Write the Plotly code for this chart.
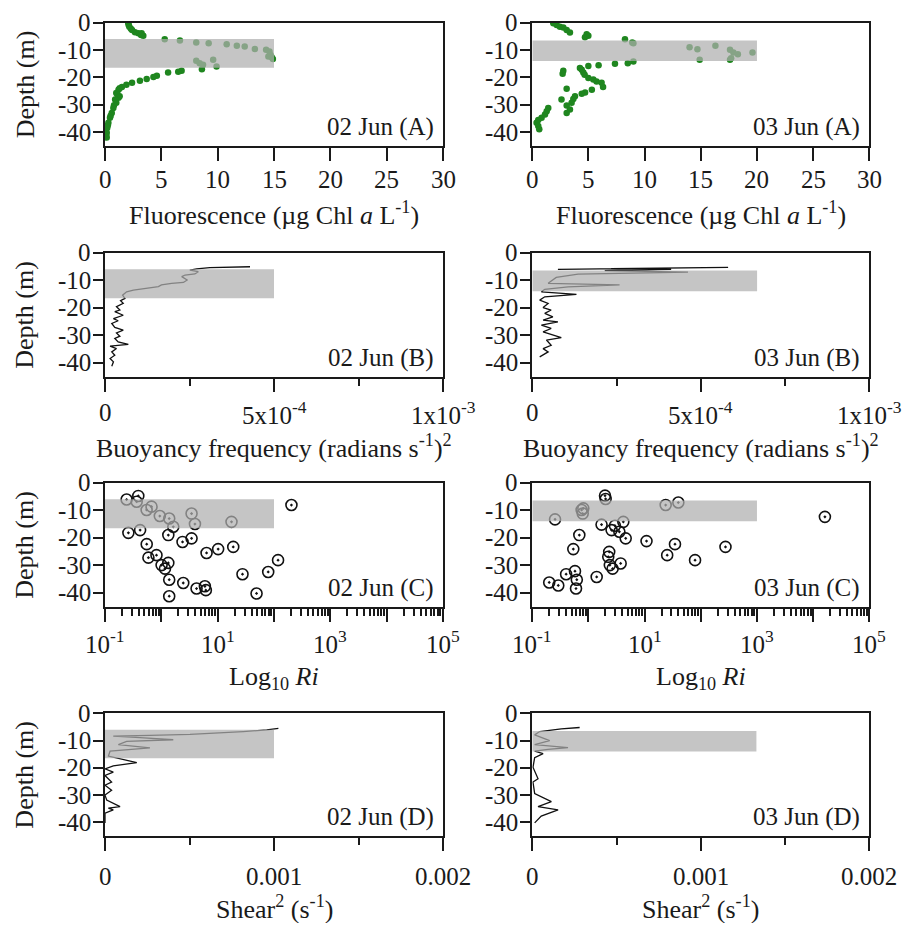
import math
import plotly.graph_objects as go

# ---------------- DATA ----------------
fl02_x = [2.07, 2.1, 2.16, 2.3, 2.4, 2.66, 2.96, 3.25, 3.4, 3.2,
          5.3, 6.65, 8.1, 9.2, 10.8, 11.7, 12.4, 13.3, 14.3, 14.6, 14.7, 14.8, 14.9, 14.5,
          8.1, 8.4, 8.7, 9.6, 9.9, 8.6, 6.8, 6.5, 5.6, 4.6, 4.3, 3.7, 3.1, 2.4, 1.9, 1.5,
          1.3, 1.2, 1.0, 1.1, 1.3, 1.2, 0.9, 1.0, 0.8, 0.74, 0.6, 0.5, 0.44, 0.3, 0.25,
          0.2, 0.15, 0.12, 0.15]
fl02_d = [-0.2, -0.8, -1.5, -2.2, -2.7, -3.5, -3.9, -3.9, -4.8, -4.5,
          -6.1, -6.5, -7.2, -7.5, -7.9, -8.4, -8.7, -9.6, -9.9, -10.5, -11.8, -12.6, -13.3, -12.4,
          -13.9, -14.8, -15.4, -13.6, -16.0, -17.0, -17.6, -17.9, -18.2, -19.4, -19.9, -20.6, -21.2, -22.0, -22.7, -23.5,
          -24.0, -24.5, -25.7, -26.3, -26.9, -27.5, -28.1, -29.3, -30.2, -31.2, -33.0, -34.0, -34.8, -36.6, -37.5,
          -38.4, -40.2, -41.0, -42.0]

fl03_x = [1.87, 2.17, 2.46, 2.76, 3.06, 3.35, 4.84, 4.99, 4.69, 8.25, 9.0, 8.9,
          14.0, 14.7, 16.3, 14.9, 17.6, 17.9, 18.3, 17.7, 17.6, 19.6,
          9.0, 8.5, 7.36, 5.9, 4.99, 4.24, 4.4, 2.76, 2.7, 4.54, 4.66, 4.99, 5.43, 5.72,
          6.17, 6.3, 3.06, 5.3, 4.7, 4.4, 3.8, 3.65, 2.6, 3.5, 3.06, 3.35, 3.06,
          1.42, 1.28, 1.13, 0.83, 0.53, 0.38, 0.53, 0.62]
fl03_d = [-0.2, -0.8, -1.5, -1.8, -2.7, -3.6, -4.2, -4.8, -5.3, -6.1, -7.5, -7.2,
          -9.0, -9.7, -8.4, -13.6, -9.9, -10.9, -11.5, -13.0, -13.6, -10.9,
          -14.2, -14.8, -15.0, -15.6, -15.8, -16.6, -17.2, -17.6, -18.7, -18.2, -19.0, -20.2, -20.8, -21.5,
          -22.0, -23.5, -24.2, -24.5, -25.5, -26.0, -26.9, -27.9, -28.1, -29.3, -30.3, -31.8, -33.0,
          -31.2, -32.4, -33.6, -34.8, -35.6, -36.6, -37.8, -39.0]

n2_02_x = [4.29e-4, 3.7e-4, 3.1e-4, 2.71e-4, 2.51e-4, 2.76e-4, 2.66e-4, 2.37e-4, 2.27e-4, 2.43e-4,
           2.32e-4, 1.97e-4, 1.67e-4, 1.58e-4, 1.23e-4, 0.84e-4, 0.64e-4, 0.52e-4, 0.59e-4, 0.46e-4,
           0.54e-4, 0.34e-4, 0.44e-4, 0.29e-4, 0.54e-4, 0.25e-4, 0.39e-4, 0.20e-4, 0.29e-4, 0.54e-4,
           0.34e-4, 0.44e-4, 0.29e-4, 0.39e-4, 0.69e-4, 0.15e-4, 0.34e-4, 0.20e-4, 0.29e-4, 0.15e-4,
           0.25e-4, 0.20e-4]
n2_02_d = [-5.1, -5.2, -5.4, -5.9, -6.3, -6.9, -7.7, -8.1, -8.7, -9.9,
           -10.8, -11.1, -11.7, -12.3, -12.9, -13.6, -14.2, -15.4, -16.6, -17.4,
           -18.4, -19.6, -20.8, -21.4, -22.7, -23.9, -24.7, -25.7, -27.1, -28.1,
           -29.1, -30.3, -31.1, -32.4, -33.3, -33.9, -34.8, -36.0, -37.2, -38.4,
           -39.6, -41.2]

n2_03_x = [0.76e-4, 5.81e-4, 2.34e-4, 4.12e-4, 2.15e-4, 4.62e-4, 1.36e-4, 0.71e-4, 0.47e-4, 2.59e-4,
           1.06e-4, 0.37e-4, 0.27e-4, 1.31e-4, 0.37e-4, 0.22e-4, 0.47e-4, 0.32e-4, 0.56e-4, 0.37e-4,
           0.61e-4, 0.32e-4, 0.76e-4, 0.27e-4, 0.56e-4, 0.32e-4, 0.86e-4, 0.42e-4, 0.56e-4, 0.32e-4,
           0.47e-4, 0.22e-4]
n2_03_d = [-6.05, -5.32, -5.81, -6.05, -6.53, -7.02, -7.75, -8.96, -11.1, -11.7,
           -12.4, -13.3, -14.2, -15.1, -16.0, -17.2, -18.4, -19.9, -20.8, -22.0,
           -23.3, -24.5, -25.1, -26.3, -27.5, -28.7, -30.8, -31.7, -33.6, -34.8,
           -36.0, -37.8]

ri02_x = [0.242, 0.39, 0.365, 0.548, 0.67, 0.94, 1.38, 1.63, 3.44, 3.95, 17.6, 204,
          0.26, 0.42, 1.33, 2.38, 3.44, 0.55, 6.35, 10.2, 18.9, 0.59, 0.82, 1.01,
          1.16, 1.33, 1.38, 1.38, 2.45, 4.22, 5.93, 6.17, 27.6, 49, 78.9, 118]
ri02_d = [-6.1, -4.8, -6.9, -9.9, -8.7, -12.1, -13.0, -16.0, -11.2, -15.0, -14.2, -8.1,
          -18.2, -17.2, -19.0, -21.5, -20.2, -22.3, -25.5, -24.1, -23.3, -27.2, -26.3, -29.9,
          -31.2, -29.1, -35.2, -41.2, -36.4, -38.4, -37.6, -39.0, -33.2, -40.2, -32.4, -28.1]

ri03_x = [0.254, 0.755, 0.81, 0.79, 1.97, 2.02, 23.7, 39.8, 16200,
          0.687, 1.71, 2.58, 2.96, 3.55, 4.17, 4.6, 10.8, 34.7, 25.2, 79, 275,
          0.537, 2.34, 2.25, 2.4, 2.69, 3.74, 0.575, 0.40, 0.62, 0.60, 0.2, 0.29, 1.4]
ri03_d = [-13.3, -9.9, -9.3, -11.2, -4.7, -5.9, -8.1, -7.2, -12.4,
          -19.0, -15.2, -17.2, -15.6, -17.8, -14.2, -20.2, -21.2, -22.3, -26.3, -28.1, -23.3,
          -24.1, -25.1, -26.9, -29.9, -31.2, -29.3, -32.1, -33.2, -35.2, -38.4, -36.2, -37.3, -34.2]

sh02_x = [1.026e-3, 0.957e-3, 0.818e-3, 0.503e-3, 0.266e-3, 0.049e-3, 0.207e-3, 0.404e-3, 0.128e-3, 0.079e-3,
          0.266e-3, 0.030e-3, 0.020e-3, 0.108e-3, 0.188e-3, 0.049e-3, 0.0, 0.049e-3, 0.0, 0.039e-3,
          0.0, 0.039e-3, 0.0, 0.010e-3, 0.089e-3, 0.020e-3, 0.049e-3, 0.0, 0.0]
sh02_d = [-5.5, -6.1, -6.7, -7.7, -8.1, -8.4, -8.9, -9.7, -10.3, -11.5,
          -12.7, -13.9, -15.7, -16.9, -18.1, -19.3, -20.4, -21.6, -22.8, -25.2,
          -26.4, -28.2, -30.0, -31.8, -34.2, -34.8, -35.4, -36.6, -40.2]

sh03_x = [0.281e-3, 0.172e-3, 0.044e-3, 0.014e-3, 0.103e-3, 0.014e-3, 0.212e-3, 0.093e-3, 0.014e-3, 0.064e-3,
          0.014e-3, 0.004e-3, 0.034e-3, 0.004e-3, 0.014e-3, 0.113e-3, 0.034e-3, 0.153e-3, 0.053e-3, 0.014e-3]
sh03_d = [-5.2, -5.7, -6.7, -7.9, -10.0, -11.5, -12.6, -13.2, -13.9, -14.8,
          -16.3, -19.8, -24.0, -25.2, -29.4, -32.4, -34.2, -35.4, -37.7, -40.2]

band02_depth = [-6.0, -16.5]
band03_depth = [-6.5, -14.0]
band02_xmax = [15, 5e-4, 100, 1e-3]
band03_xmax = [20, 6.67e-4, 1000, 1.33e-3]

panel_labels = ["02 Jun (A)", "03 Jun (A)", "02 Jun (B)", "03 Jun (B)",
                "02 Jun (C)", "03 Jun (C)", "02 Jun (D)", "03 Jun (D)"]
x_titles = ["Fluorescence (µg Chl <i>a</i> L<sup>-1</sup>)",
            "Buoyancy frequency (radians s<sup>-1</sup>)<sup>2</sup>",
            "Log<sub>10</sub> <i>Ri</i>",
            "Shear<sup>2</sup> (s<sup>-1</sup>)"]
depth_ticks = [0, -10, -20, -30, -40]
depth_ticktext = ["0", "-10", "-20", "-30", "-40"]

x_tickvals = [[0, 5, 10, 15, 20, 25, 30],
              [0, 5e-4, 1e-3],
              [0.1, 10, 1e3, 1e5],
              [0, 1e-3, 2e-3]]
x_ticktext = [["0", "5", "10", "15", "20", "25", "30"],
              ["0", "5x10<sup>-4</sup>", "1x10<sup>-3</sup>"],
              ["10<sup>-1</sup>", "10<sup>1</sup>", "10<sup>3</sup>", "10<sup>5</sup>"],
              ["0", "0.001", "0.002"]]
x_minor = [None, [2.5e-4, 7.5e-4], None, [5e-4, 1.5e-3]]
log_major = [0.1, 1, 10, 100, 1e3, 1e4, 1e5]

# ---------------- FIGURE ----------------
OFF = 8  # page body margin
W, H = 923 - 2 * OFF, 931 - 2 * OFF
FONT = "Liberation Serif"
INK = "#1a1a1a"
GREEN = "#1f861f"
TICK_SIZE = 25
TITLE_SIZE = 26

col_px = [(105, 443), (532.3, 869.3)]
row_px = [(22.7, 145.7), (252.7, 376.7), (482.7, 606.7), (713.3, 836.0)]
xtitle_px = [213, 447, 678, 907]
xlabel_drop = [34, 36, 35, 40]   # label centre below axis line (px)


def px(v):
    return v - OFF


fig = go.Figure()
series = [
    (fl02_x, fl02_d, "pts"), (fl03_x, fl03_d, "pts"),
    (n2_02_x, n2_02_d, "line"), (n2_03_x, n2_03_d, "line"),
    (ri02_x, ri02_d, "circ"), (ri03_x, ri03_d, "circ"),
    (sh02_x, sh02_d, "line"), (sh03_x, sh03_d, "line"),
]
for i, (xs, ds, kind) in enumerate(series):
    n = i + 1
    xa = "x" if n == 1 else f"x{n}"
    ya = "y" if n == 1 else f"y{n}"
    if kind == "pts":
        fig.add_trace(go.Scatter(x=xs, y=ds, mode="markers", xaxis=xa, yaxis=ya,
                                 marker=dict(color=GREEN, size=6.5, line=dict(width=0)),
                                 showlegend=False))
    elif kind == "line":
        fig.add_trace(go.Scatter(x=xs, y=ds, mode="lines", xaxis=xa, yaxis=ya,
                                 line=dict(color="#111111", width=1.3), showlegend=False))
    else:
        fig.add_trace(go.Scatter(x=xs, y=ds, mode="markers", xaxis=xa, yaxis=ya,
                                 marker=dict(symbol="circle-open-dot", color="#111111", size=11,
                                             line=dict(width=1.6, color="#111111")),
                                 showlegend=False))

layout = dict(width=W, height=H, autosize=False,
              margin=dict(l=0, r=0, t=0, b=0, autoexpand=False),
              paper_bgcolor="white", plot_bgcolor="white",
              font=dict(family=FONT, color=INK), showlegend=False)

annotations, shapes = [], []
axis_common = dict(showline=True, linecolor=INK, linewidth=2, mirror=True,
                   ticks="outside", tickcolor=INK, tickwidth=2, automargin=False,
                   showgrid=False, zeroline=False, showticklabels=False)


def label(text, **kw):
    d = dict(text=text, showarrow=False, font=dict(family=FONT, size=TICK_SIZE, color=INK))
    d.update(kw)
    return d


for i in range(8):
    n = i + 1
    r, c = i // 2, i % 2
    x0p, x1p = px(col_px[c][0]), px(col_px[c][1])
    t, b = px(row_px[r][0]), px(row_px[r][1])
    xkey = "xaxis" if n == 1 else f"xaxis{n}"
    ykey = "yaxis" if n == 1 else f"yaxis{n}"
    yname = "y" if n == 1 else f"y{n}"
    xname = "x" if n == 1 else f"x{n}"

    xa = dict(axis_common, domain=[x0p / W, x1p / W], anchor=yname, ticklen=13)
    if r == 2:
        xa.update(type="log", range=[-1, 5], tickvals=log_major,
                  minor=dict(dtick="D1", ticks="outside", ticklen=7, tickwidth=1.5,
                             tickcolor=INK, showgrid=False))
    else:
        xa.update(range=[0, x_tickvals[r][-1]], tickvals=x_tickvals[r])
        if x_minor[r]:
            xa["minor"] = dict(tickvals=x_minor[r], ticks="outside", ticklen=7,
                               tickwidth=2, tickcolor=INK, showgrid=False)
    ya = dict(axis_common, domain=[1 - b / H, 1 - t / H], anchor=xname,
              range=[-45, 0], tickvals=depth_ticks, ticklen=10)
    layout[xkey] = xa
    layout[ykey] = ya

    # x tick labels
    for v, txt in zip(x_tickvals[r], x_ticktext[r]):
        xv = math.log10(v) if r == 2 else v
        annotations.append(label(txt, xref=xname, yref=f"{yname} domain", x=xv, y=0,
                                 xanchor="center", yanchor="middle",
                                 yshift=-xlabel_drop[r]))
    # y tick labels
    for v, txt in zip(depth_ticks, depth_ticktext):
        annotations.append(label(txt, xref=f"{xname} domain", yref=yname, x=0, y=v,
                                 xanchor="right", yanchor="middle", xshift=-12))

    band = band02_depth if c == 0 else band03_depth
    xmax = (band02_xmax if c == 0 else band03_xmax)[r]
    xmin = 0.1 if r == 2 else 0
    shapes.append(dict(type="rect", xref=xname, yref=yname,
                       x0=xmin, x1=xmax, y0=band[0], y1=band[1],
                       fillcolor="rgba(175,175,175,0.72)", line=dict(width=0),
                       layer="above"))

    annotations.append(label(panel_labels[i], xref=f"{xname} domain", yref=f"{yname} domain",
                             x=1, y=0, xanchor="right", yanchor="middle",
                             xshift=-7, yshift=19))
    annotations.append(dict(text=x_titles[r], xref="paper", yref="paper",
                            x=(x0p + x1p) / 2 / W, y=1 - px(xtitle_px[r]) / H,
                            xanchor="center", yanchor="middle", showarrow=False,
                            font=dict(family=FONT, size=TITLE_SIZE, color=INK)))
    if c == 0:
        annotations.append(dict(text="Depth (m)", xref="paper", yref="paper",
                                x=px(25) / W, y=1 - (t + b) / 2 / H, textangle=-90,
                                xanchor="center", yanchor="middle", showarrow=False,
                                font=dict(family=FONT, size=TITLE_SIZE, color=INK)))

layout["annotations"] = annotations
layout["shapes"] = shapes
fig.update_layout(**layout)
fig.write_html("out.html")
